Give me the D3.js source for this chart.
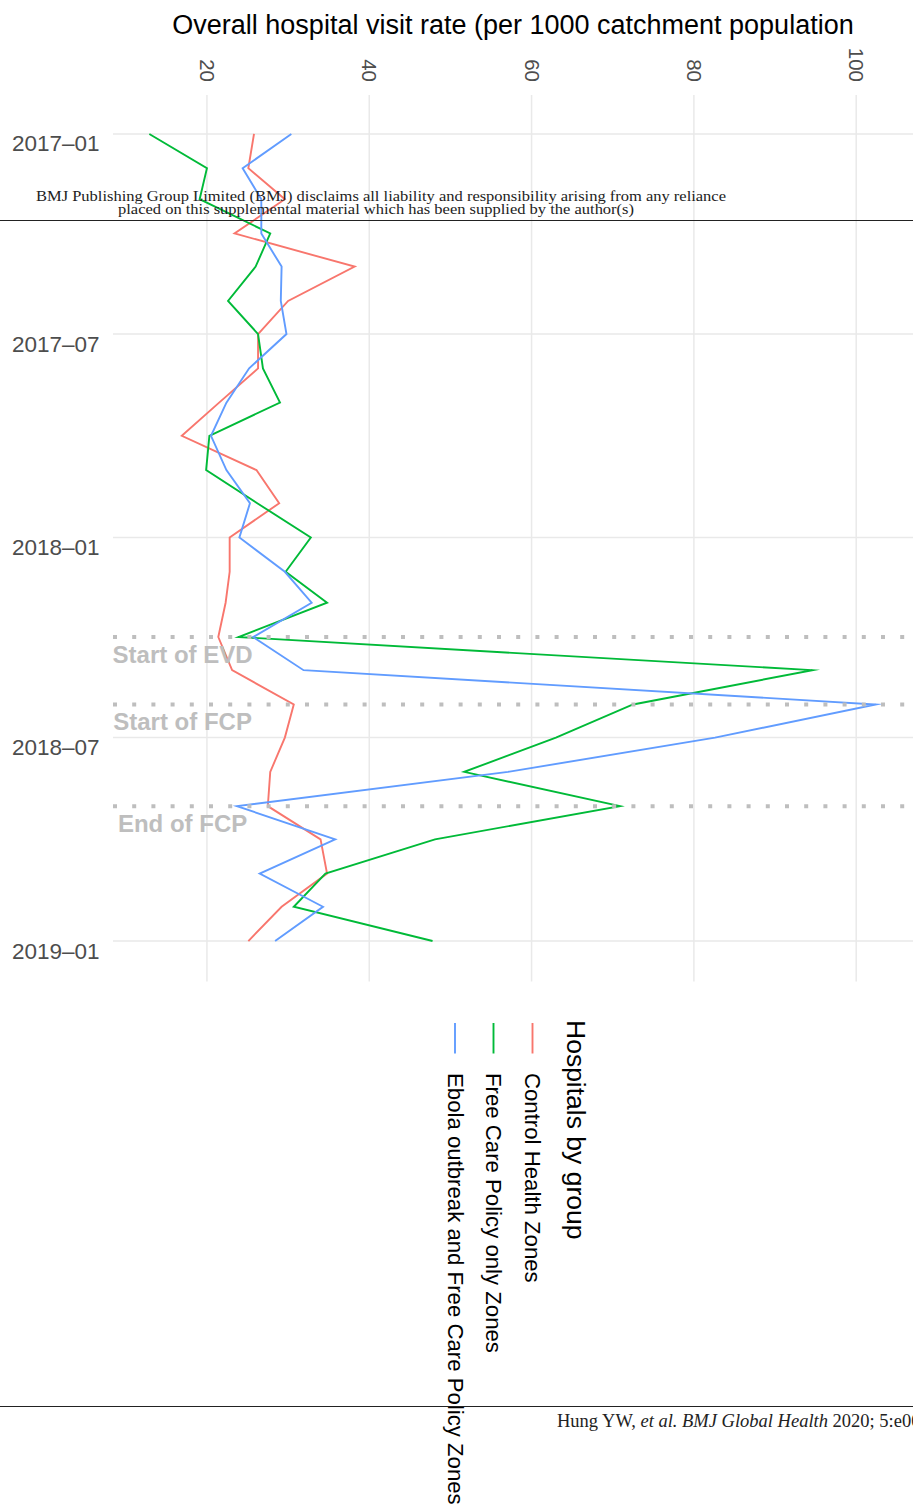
<!DOCTYPE html>
<html>
<head>
<meta charset="utf-8">
<script src="https://cdn.jsdelivr.net/npm/d3@7"></script>
<style>
  body { margin: 0; background: #fff; }
  svg { display: block; }
  text { font-family: "Liberation Sans", Arial, Helvetica, sans-serif; }
</style>
</head>
<body>
<svg id="chart" width="913" height="1511"></svg>
<script>
// Monthly observation dates
const months = [
  "2017-01-01", "2017-02-01", "2017-03-01", "2017-04-01", "2017-05-01", "2017-06-01",
  "2017-07-01", "2017-08-01", "2017-09-01", "2017-10-01", "2017-11-01", "2017-12-01",
  "2018-01-01", "2018-02-01", "2018-03-01", "2018-04-01", "2018-05-01", "2018-06-01",
  "2018-07-01", "2018-08-01", "2018-09-01", "2018-10-01", "2018-11-01", "2018-12-01",
  "2019-01-01"
];

// Visit rate per 1000 catchment population, by hospital group
const controlZones = [25.8, 25.1, 29.6, 23.4, 38.2, 30.0, 26.3, 26.3, 21.5, 16.9, 26.1, 28.9,
                      22.8, 22.8, 22.3, 21.4, 23.1, 30.7, 29.6, 27.8, 27.5, 34.0, 34.8, 29.2, 25.1];
const fcpOnlyZones = [12.9, 20.0, 19.1, 27.8, 26.0, 22.6, 26.3, 26.9, 29.0, 20.3, 19.9, 26.2,
                      32.8, 29.7, 34.8, 23.9, 94.6, 72.5, 63.0, 51.7, 70.9, 48.1, 34.6, 30.7, 47.8];
const ebolaFcpZones = [30.4, 24.4, 26.7, 26.7, 29.2, 29.1, 29.8, 25.2, 22.4, 20.5, 22.4, 25.3,
                       24.0, 29.6, 32.9, 25.7, 31.9, 102.4, 82.6, 57.1, 23.7, 35.8, 26.5, 34.3, 28.4];

const groupNames = ["Control Health Zones", "Free Care Policy only Zones",
                    "Ebola outbreak and Free Care Policy Zones"];
const groupColors = ["#F8766D", "#00BA38", "#619CFF"];

const valueTicks = [20, 40, 60, 80, 100];
const dateTicks = ["2017-01-01", "2017-07-01", "2018-01-01", "2018-07-01", "2019-01-01"];

const eventDates = ["2018-04-01", "2018-06-01", "2018-09-01"];
const eventLabels = ["Start of EVD", "Start of FCP", "End of FCP"];

const axisTitle = "Overall hospital visit rate (per 1000 catchment population";
const legendTitle = "Hospitals by group";
const disclaimerLines = [
  "BMJ Publishing Group Limited (BMJ) disclaims all liability and responsibility arising from any reliance",
  "placed on this supplemental material which has been supplied by the author(s)"
];

// ---------------------------------------------------------------------------
const parse = d3.utcParse("%Y-%m-%d");
const dates = months.map(parse);
const series = [controlZones, fcpOnlyZones, ebolaFcpZones].map((vals, i) => ({
  name: groupNames[i],
  color: groupColors[i],
  points: vals.map((v, j) => ({ date: dates[j], value: v }))
}));

const svg = d3.select("#chart");
const panel = { left: 113, right: 912, top: 93.6, bottom: 981.4 };

// Value runs across the page, time runs down it; both padded 5% like ggplot
const allVals = controlZones.concat(fcpOnlyZones, ebolaFcpZones);
const [vMin, vMax] = d3.extent(allVals);
const vPad = (vMax - vMin) * 0.05;
const x = d3.scaleLinear().domain([vMin - vPad, vMax + vPad]).range([panel.left, panel.right]);

const [tMin, tMax] = d3.extent(dates);
const tPad = (tMax - tMin) * 0.05;
const y = d3.scaleUtc()
  .domain([new Date(+tMin - tPad), new Date(+tMax + tPad)])
  .range([panel.top, panel.bottom]);

// Grid
const grid = svg.append("g").attr("stroke", "#e9e9e9").attr("stroke-width", 1.5);
grid.selectAll("line.v").data(valueTicks).join("line")
  .attr("x1", d => x(d)).attr("x2", d => x(d))
  .attr("y1", panel.top + 1.5).attr("y2", panel.bottom);
grid.selectAll("line.h").data(dateTicks.map(parse)).join("line")
  .attr("x1", panel.left).attr("x2", 913)
  .attr("y1", d => y(d)).attr("y2", d => y(d));

// Value axis (top, labels turned a quarter clockwise)
const xAxis = svg.append("g")
  .attr("transform", "translate(0,82)")
  .call(d3.axisTop(x).tickValues(valueTicks).tickSize(0).tickPadding(0));
xAxis.select(".domain").remove();
xAxis.selectAll("text")
  .attr("x", 0).attr("y", 0).attr("dy", null)
  .attr("transform", "rotate(90)")
  .attr("text-anchor", "end")
  .attr("dominant-baseline", "central")
  .attr("fill", "#4d4d4d")
  .style("font-size", "20.5px")
  .style("font-family", "'Liberation Sans', Arial, sans-serif");

// Time axis (left)
const fmt = d => d3.utcFormat("%Y")(d) + "\u2013" + d3.utcFormat("%m")(d);
const yAxis = svg.append("g")
  .attr("transform", "translate(99.5,0)")
  .call(d3.axisLeft(y).tickValues(dateTicks.map(parse)).tickFormat(fmt).tickSize(0).tickPadding(0));
yAxis.select(".domain").remove();
yAxis.selectAll("text")
  .attr("x", 0).attr("y", 9.5).attr("dy", null)
  .attr("dominant-baseline", "central")
  .attr("text-anchor", "end")
  .attr("fill", "#4d4d4d")
  .style("font-size", "22.5px")
  .style("font-family", "'Liberation Sans', Arial, sans-serif");

// Axis title
svg.append("text")
  .attr("x", (panel.left + panel.right) / 2 + 0.5)
  .attr("y", 34)
  .attr("text-anchor", "middle")
  .attr("fill", "#000")
  .style("font-size", "27px")
  .text(axisTitle);

// Lines
const line = d3.line().x(d => x(d.value)).y(d => y(d.date));
svg.append("g").selectAll("path").data(series).join("path")
  .attr("d", d => line(d.points))
  .attr("fill", "none")
  .attr("stroke", d => d.color)
  .attr("stroke-width", 1.9)
  .attr("stroke-linejoin", "miter")
  .attr("stroke-miterlimit", 10);

// Event markers
const ev = svg.append("g");
ev.selectAll("line").data(eventDates.map(parse)).join("line")
  .attr("x1", panel.left).attr("x2", 913)
  .attr("y1", d => y(d)).attr("y2", d => y(d))
  .attr("stroke", "#bebebe")
  .attr("stroke-width", 4)
  .attr("stroke-dasharray", "4 15.2");
ev.selectAll("text").data(eventDates.map(parse)).join("text")
  .attr("x", x(17))
  .attr("y", d => y(d) + 26)
  .attr("text-anchor", "middle")
  .attr("fill", "#bebebe")
  .style("font-size", "24px")
  .style("font-weight", "bold")
  .text((d, i) => eventLabels[i]);

// Legend (turned a quarter clockwise)
const legend = svg.append("g");
legend.append("text")
  .attr("transform", "translate(576,1020) rotate(90)")
  .attr("dominant-baseline", "central")
  .attr("fill", "#000")
  .style("font-size", "26.5px")
  .text(legendTitle);
const legendX = [532.5, 493.5, 455];
series.forEach((s, i) => {
  legend.append("line")
    .attr("x1", legendX[i]).attr("x2", legendX[i])
    .attr("y1", 1023).attr("y2", 1053.5)
    .attr("stroke", s.color).attr("stroke-width", 1.9);
  legend.append("text")
    .attr("transform", `translate(${legendX[i]},1073) rotate(90)`)
    .attr("dominant-baseline", "central")
    .attr("fill", "#000")
    .style("font-size", "22.2px")
    .text(s.name);
});

// Publisher disclaimer band and footer
const serif = "'Liberation Serif', 'Times New Roman', serif";
svg.append("text")
  .attr("x", 36).attr("y", 201)
  .attr("textLength", 690).attr("lengthAdjust", "spacingAndGlyphs")
  .style("font-family", serif).style("font-size", "14px").attr("fill", "#222")
  .text(disclaimerLines[0]);
svg.append("text")
  .attr("x", 118).attr("y", 213.5)
  .attr("textLength", 516).attr("lengthAdjust", "spacingAndGlyphs")
  .style("font-family", serif).style("font-size", "14px").attr("fill", "#222")
  .text(disclaimerLines[1]);
svg.append("line")
  .attr("x1", 0).attr("x2", 913).attr("y1", 220.5).attr("y2", 220.5)
  .attr("stroke", "#222").attr("stroke-width", 1);

svg.append("line")
  .attr("x1", 0).attr("x2", 913).attr("y1", 1406.5).attr("y2", 1406.5)
  .attr("stroke", "#222").attr("stroke-width", 1);
const foot = svg.append("text")
  .attr("x", 557).attr("y", 1427)
  .style("font-family", serif).style("font-size", "18.5px").attr("fill", "#222");
foot.append("tspan").text("Hung YW, ");
foot.append("tspan").style("font-style", "italic").text("et al. BMJ Global Health");
foot.append("tspan").text(" 2020; 5:e002168");
</script>
</body>
</html>
